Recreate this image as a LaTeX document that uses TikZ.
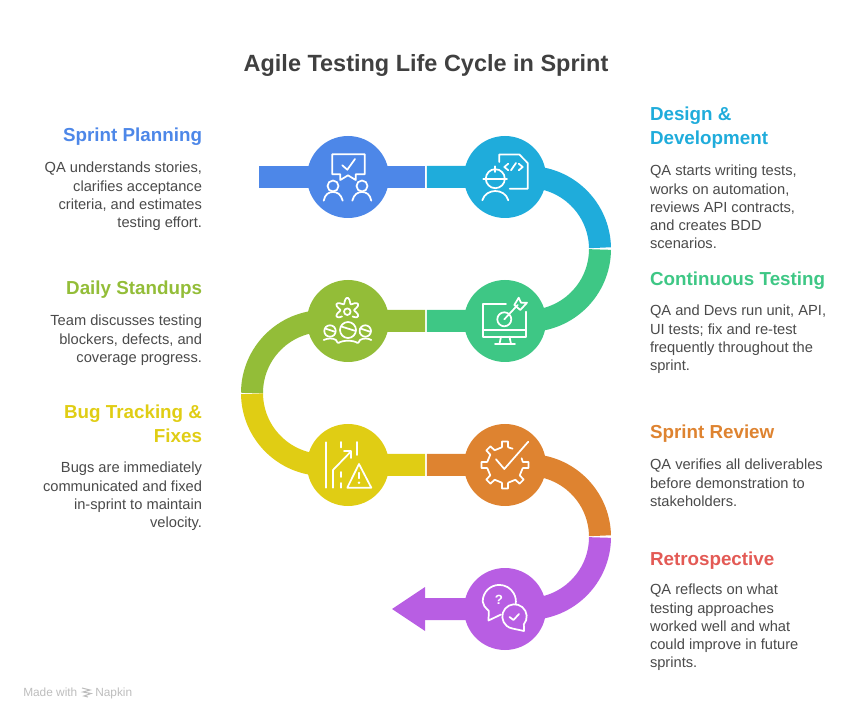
\documentclass[tikz,border=0pt]{standalone}
\usepackage{fontspec}
\setmainfont{Liberation Sans}
\definecolor{cblue}{HTML}{4D87E8}
\definecolor{ccyan}{HTML}{1FACDB}
\definecolor{cgreen}{HTML}{3EC785}
\definecolor{colive}{HTML}{93BD38}
\definecolor{cyellow}{HTML}{E0CD14}
\definecolor{corange}{HTML}{DE8330}
\definecolor{cpurple}{HTML}{B85EE3}
\definecolor{cred}{HTML}{E35A55}
\definecolor{ctext}{HTML}{4A4A4A}
\definecolor{ctitle}{HTML}{404040}
\definecolor{cmark}{HTML}{BDBDBD}
\tikzset{
  band/.style={draw=#1,line width=16.5pt},
  stopdisc/.style={circle,fill=#1,minimum size=61.5pt,inner sep=0pt,outer sep=0pt},
  ico/.style={draw=white,line width=1.3pt,line cap=round,line join=round},
  head/.style={font=\bfseries\fontsize{14.1}{18}\selectfont,inner sep=0pt,outer sep=0pt},
  bodyl/.style={font=\fontsize{11}{13.7}\selectfont,text=ctext,align=right,anchor=north east,inner sep=0pt,outer sep=0pt},
  bodyr/.style={font=\fontsize{11}{13.7}\selectfont,text=ctext,align=left,anchor=north west,inner sep=0pt,outer sep=0pt},
}
\begin{document}
\begin{tikzpicture}[x=0.75pt,y=-0.75pt]
\useasboundingbox (0,0) rectangle (854,720);
% junction coordinates
\coordinate (start) at (259,177);
\coordinate (j12a) at (425.2,177);
\coordinate (j12b) at (426.8,177);
\coordinate (a2) at (528,177);
\coordinate (b3) at (528,321);
\coordinate (j43a) at (425.2,321);
\coordinate (j43b) at (426.8,321);
\coordinate (a4) at (324,321);
\coordinate (a5) at (324,465);
\coordinate (j56a) at (425.2,465);
\coordinate (j56b) at (426.8,465);
\coordinate (a6) at (528,465);
\coordinate (a7) at (528,609);
\coordinate (shaftend) at (425,609);
% bands
\draw[band=cblue] (start) -- (j12a);
\draw[band=ccyan] (j12b) -- (a2) arc[start angle=-90,end angle=-1,radius=72];
\draw[band=cgreen] (j43b) -- (b3) arc[start angle=90,end angle=0.4,radius=72];
\draw[band=colive] (j43a) -- (a4) arc[start angle=-90,end angle=-180,radius=72];
\draw[band=cyellow] (j56a) -- (a5) arc[start angle=90,end angle=179.4,radius=72];
\draw[band=corange] (j56b) -- (a6) arc[start angle=-90,end angle=-1,radius=72];
\draw[band=cpurple] (shaftend) -- (a7) arc[start angle=90,end angle=0.4,radius=72];
\fill[cpurple] (425,587) -- (392,609) -- (425,631) -- cycle;
% discs
\node[stopdisc=cblue] (c1) at (348,177) {};
\node[stopdisc=ccyan] (c2) at (505,177) {};
\node[stopdisc=cgreen] (c3) at (505,321) {};
\node[stopdisc=colive] (c4) at (348,321) {};
\node[stopdisc=cyellow] (c5) at (348,465) {};
\node[stopdisc=corange] (c6) at (505,465) {};
\node[stopdisc=cpurple] (c7) at (505,609) {};
% icon 1
\begin{scope}[shift={(c1.center)}]
\draw[ico] (-15.7,-22.7) -- (16.7,-22.7) -- (16.7,-2.7) -- (7.7,-2.7) -- (7.7,3) -- (0,-1.7) -- (-7.7,3) -- (-7.7,-2.7) -- (-15.7,-2.7) -- cycle;
\draw[ico] (-5.7,-11.7) -- (-0.7,-7.3) -- (7,-18);
\draw[ico] (-15,9) circle[radius=5.5];
\draw[ico] (14,9) circle[radius=5.5];
\draw[ico] (-24.3,23.7) .. controls (-23,17) and (-19,15) .. (-15,15) .. controls (-11,15) and (-7,17) .. (-5.3,23.7);
\draw[ico] (4.3,23.7) .. controls (6,17) and (10,15) .. (14,15) .. controls (18,15) and (22,17) .. (23.3,23.7);
\end{scope}
% icon 2
\begin{scope}[shift={(c2.center)}]
\draw[ico] (-5.7,-15) -- (-5.7,-22.5) -- (14.3,-22.5) -- (22.7,-14) -- (22.7,11.7) -- (4.7,11.7);
\draw[ico] (3.3,-13.3) -- (-0.7,-10) -- (3.3,-6.7);
\draw[ico] (6,-6.7) -- (11,-14);
\draw[ico] (13.7,-13.3) -- (17.7,-10) -- (13.7,-6.7);
\draw[ico] (-9.7,1.7) circle[radius=9.5];
\draw[ico] (-21.7,1.7) -- (2,1.7);
\draw[ico] (-9.7,-10.7) -- (-9.7,-5);
\draw[ico] (-22.7,23.3) .. controls (-21,17) and (-15,14) .. (-9.7,14) .. controls (-4,14) and (1.5,17) .. (3.3,23.3);
\end{scope}
% icon 3
\begin{scope}[shift={(c3.center)}]
\draw[ico] (1,-17) -- (-21.7,-17) -- (-21.7,15.7) -- (21,15.7) -- (21,-9.3);
\draw[ico] (-21.7,9) -- (21,9);
\draw[ico] (-4,15.7) -- (-5.5,23);
\draw[ico] (4.5,15.7) -- (6,23);
\draw[ico] (-10,23) -- (10,23);
\draw[ico] (-0.7,-1.7) circle[radius=7];
\draw[ico] (-0.7,-1.7) -- (12.7,-16);
\draw[ico] (9.3,-16) -- (13.7,-23.3) -- (16,-18.3) -- (22,-18.3) -- (15.3,-11) -- cycle;
\end{scope}
% icon 4
\begin{scope}[shift={(c4.center)}]
\draw[ico,smooth,samples=40,domain=-140:140] plot ({-0.7+(9.6+2.8*cos(6*\x))*sin(\x)},{-10.8-(9.6+2.8*cos(6*\x))*cos(\x)});
\draw[ico] (-0.7,-9.3) circle[radius=3.3];
\draw[ico] (0,9) circle[radius=8];
\draw[ico] (-18,10) circle[radius=5.7];
\draw[ico] (17.3,10) circle[radius=5.7];
\draw[ico] (-6.7,5.5) -- (6.7,9.7);
\draw[ico] (-23,7.5) -- (-13.3,10.7);
\draw[ico] (12.5,7.5) -- (22,10.7);
\draw[ico] (-24.3,19) .. controls (-20,17) and (-15,17) .. (-12,19) .. controls (-11,21) and (-10.5,22) .. (-9.5,22) .. controls (-6,19) and (6,19) .. (9.5,22) .. controls (10.5,22) and (11,21) .. (12,19) .. controls (15,17) and (20,17) .. (23.3,19);
\end{scope}
% icon 5
\begin{scope}[shift={(c5.center)}]
\draw[ico] (-22.3,-22.7) -- (-22.3,22.7);
\draw[ico] (-7.3,-23) -- (-7.3,-17.5);
\draw[ico] (-7.3,7) -- (-7.3,12);
\draw[ico] (-7.3,18) -- (-7.3,22.7);
\draw[ico] (9.3,-23) -- (9.3,-10);
\draw[ico] (-15,22.7) -- (-15,5) -- (2.7,-13.3);
\draw[ico] (-4,-14) -- (3,-14) -- (3,-7);
\draw[ico] (11,-1) -- (-0.7,22.7) -- (23.3,22.7) -- cycle;
\draw[ico] (11,7.7) -- (11,13.3);
\fill[white] (11,17.7) circle[radius=1.4];
\end{scope}
% icon 6
\begin{scope}[shift={(c6.center)}]
\draw[ico] (-22:18) \foreach \a in {0,45,90,135,180,225,270} { -- (\a-10:18) -- (\a-7:23.7) -- (\a+7:23.7) -- (\a+10:18)} -- (-65:18);
\draw[ico] (-9,-5.7) -- (-0.7,4) -- (23.3,-23.3);
\end{scope}
% icon 7
\begin{scope}[shift={(c7.center)}]
\draw[ico] (-4,5.5) -- (-16.5,11.5) -- (-16.2,2) .. controls (-20,-2) and (-22.3,-4) .. (-22.3,-7.5) arc[start angle=180,end angle=370,radius=16.6];
\draw[ico] (18.85,15.34) arc[start angle=40,end angle=-260,radius=12.2] -- (19,22) -- cycle;
\draw[ico] (4.5,8) -- (8.5,11) -- (14,5);
\node[inner sep=0pt,text=white,font=\bfseries\fontsize{10}{10}\selectfont] (qm) at (-6,-9.5) {?};
\end{scope}
% title
\node[font=\bfseries\fontsize{17.6}{22}\selectfont,text=ctitle,inner sep=0pt] (title) at (426,65.5) {Agile Testing Life Cycle in Sprint};
% left headings and text
\node[head,text=cblue,anchor=base east] (h1) at (202,142) {Sprint Planning};
\node[bodyl] (t1) at (202,162.3) {QA understands stories,\\clarifies acceptance\\criteria, and estimates\\testing effort.};
\node[head,text=colive,anchor=base east] (h4) at (202,295) {Daily Standups};
\node[bodyl] (t4) at (202,315.3) {Team discusses testing\\blockers, defects, and\\coverage progress.};
\node[head,text=cyellow,align=right,anchor=north east] (h5) at (202,404.5) {Bug Tracking \&\\Fixes};
\node[bodyl] (t5) at (202,462.3) {Bugs are immediately\\communicated and fixed\\in-sprint to maintain\\velocity.};
% right headings and text
\node[head,text=ccyan,align=left,anchor=north west] (h2) at (650,107) {Design \&\\Development};
\node[bodyr] (t2) at (650,165.3) {QA starts writing tests,\\works on automation,\\reviews API contracts,\\and creates BDD\\scenarios.};
\node[head,text=cgreen,anchor=base west] (h3) at (650,286) {Continuous Testing};
\node[bodyr] (t3) at (650,305.3) {QA and Devs run unit, API,\\UI tests; fix and re-test\\frequently throughout the\\sprint.};
\node[head,text=corange,anchor=base west] (h6) at (650,439) {Sprint Review};
\node[bodyr] (t6) at (650,459.3) {QA verifies all deliverables\\before demonstration to\\stakeholders.};
\node[head,text=cred,anchor=base west] (h7) at (650,565) {Retrospective};
\node[bodyr] (t7) at (650,584.3) {QA reflects on what\\testing approaches\\worked well and what\\could improve in future\\sprints.};
% watermark
\node[font=\fontsize{8.9}{10}\selectfont,text=cmark,anchor=base west,inner sep=0pt] (m1) at (23,696) {Made with};
\node[font=\fontsize{8.9}{10}\selectfont,text=cmark,anchor=base west,inner sep=0pt] (m2) at (95,696) {Napkin};
\draw[cmark,line width=0.8pt] (82,688) -- (90,690) -- (83,692) -- (91,693.5) -- (84,696) -- (88,697);
\end{tikzpicture}
\end{document}
